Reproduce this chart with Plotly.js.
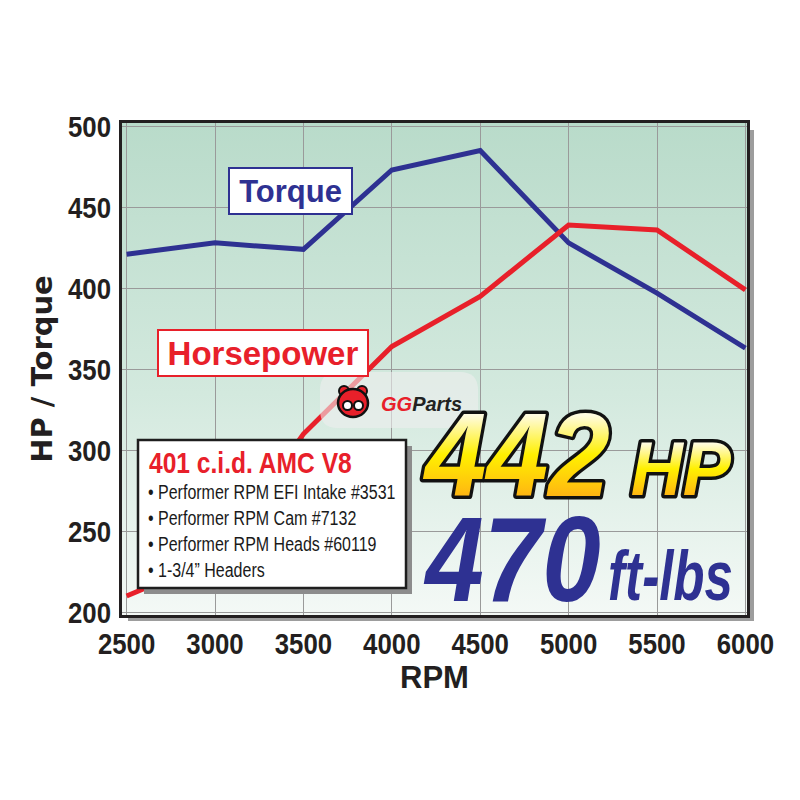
<!DOCTYPE html>
<html>
<head>
<meta charset="utf-8">
<script src="https://cdn.plot.ly/plotly-3.0.1.min.js"></script>
<style>
  html, body { margin: 0; padding: 0; background: #ffffff; }
  #chart { width: 800px; height: 800px; }
</style>
</head>
<body>
<div id="chart"></div>
<script>
// ---- data ----
const rpm = [2500, 3000, 3500, 4000, 4500, 5000, 5500, 6000];
const torque = [421, 428, 424, 473, 485, 428, 397, 363];
const horsepower = [210, 233, 310, 364, 395, 439, 436, 399];
const xTickVals = [2500, 3000, 3500, 4000, 4500, 5000, 5500, 6000];
const yTickVals = [200, 250, 300, 350, 400, 450, 500];
const seriesNames = ['Torque', 'Horsepower'];
const engineTitle = '401 c.i.d. AMC V8';
const engineSpecs = [
  'Performer RPM EFI Intake #3531',
  'Performer RPM Cam #7132',
  'Performer RPM Heads #60119',
  '1-3/4\u201D Headers'
];
const peakHP = '442';
const peakTorque = '470';

const BLUE = '#2e3192';
const RED = '#e8202a';
const SANS = '"Liberation Sans", Arial, sans-serif';

// px -> paper helpers (plot area 122..747 x 123..615)
const PX0 = 122, PW = 625, PY1 = 615, PH = 492;
const px = v => (v - PX0) / PW;
const py = v => (PY1 - v) / PH;

const gradSvg = '<svg xmlns="http://www.w3.org/2000/svg" width="100" height="100" preserveAspectRatio="none">' +
  '<defs><linearGradient id="g" x1="0" y1="0" x2="0" y2="1">' +
  '<stop offset="0" stop-color="#b9dbca"/><stop offset="0.55" stop-color="#d3e9de"/>' +
  '<stop offset="1" stop-color="#f4f9f6"/></linearGradient></defs>' +
  '<rect width="100" height="100" fill="url(#g)"/></svg>';
const gradUri = 'data:image/svg+xml;charset=utf-8,' + encodeURIComponent(gradSvg);

const traces = [
  { x: rpm, y: torque, name: seriesNames[0], type: 'scatter', mode: 'lines',
    line: { color: BLUE, width: 5 }, hoverinfo: 'skip' },
  { x: rpm, y: horsepower, name: seriesNames[1], type: 'scatter', mode: 'lines',
    line: { color: RED, width: 5 }, hoverinfo: 'skip' }
];

function roundRect(x0, y0, x1, y1, r) {
  const rx = r / PW, ry = r / PH;
  return `M ${x0+rx},${y0} L ${x1-rx},${y0} Q ${x1},${y0} ${x1},${y0+ry} L ${x1},${y1-ry} Q ${x1},${y1} ${x1-rx},${y1} ` +
         `L ${x0+rx},${y1} Q ${x0},${y1} ${x0},${y1-ry} L ${x0},${y0+ry} Q ${x0},${y0} ${x0+rx},${y0} Z`;
}

const shapes = [
  { type: 'rect', xref: 'paper', yref: 'paper', x0: 1.002, x1: px(754), y0: py(621), y1: py(130),
    fillcolor: '#9d9d9d', line: { width: 0 }, layer: 'below' },
  { type: 'rect', xref: 'paper', yref: 'paper', x0: px(128), x1: px(754), y0: py(621), y1: -0.002,
    fillcolor: '#9d9d9d', line: { width: 0 }, layer: 'below' },
  { type: 'path', xref: 'paper', yref: 'paper', path: roundRect(px(320), py(428), px(478), py(372), 18),
    fillcolor: 'rgba(238,238,238,0.6)', line: { width: 0 }, layer: 'above' },
  { type: 'circle', xref: 'paper', yref: 'paper', x0: px(339), x1: px(349), y0: py(396), y1: py(386),
    fillcolor: RED, line: { color: '#111', width: 2 }, layer: 'above' },
  { type: 'circle', xref: 'paper', yref: 'paper', x0: px(357), x1: px(367), y0: py(396), y1: py(386),
    fillcolor: RED, line: { color: '#111', width: 2 }, layer: 'above' },
  { type: 'circle', xref: 'paper', yref: 'paper', x0: px(338), x1: px(368), y0: py(417), y1: py(389),
    fillcolor: RED, line: { color: '#111', width: 2.5 }, layer: 'above' },
  { type: 'circle', xref: 'paper', yref: 'paper', x0: px(343), x1: px(352), y0: py(410), y1: py(401),
    fillcolor: '#ffffff', line: { color: '#111', width: 2 }, layer: 'above' },
  { type: 'circle', xref: 'paper', yref: 'paper', x0: px(354), x1: px(363), y0: py(410), y1: py(401),
    fillcolor: '#ffffff', line: { color: '#111', width: 2 }, layer: 'above' },
  { type: 'rect', xref: 'paper', yref: 'paper', x0: px(144), x1: px(412), y0: py(594), y1: py(446),
    fillcolor: '#8c8c8c', line: { width: 0 }, layer: 'above' },
  { type: 'rect', xref: 'paper', yref: 'paper', x0: px(138), x1: px(406), y0: py(588), y1: py(440),
    fillcolor: '#ffffff', line: { color: '#1e1e1e', width: 2.5 }, layer: 'above' }
];

const annotations = [
  { xref: 'paper', yref: 'paper', x: px(290), y: py(191), xanchor: 'center', yanchor: 'middle',
    text: seriesNames[0], showarrow: false, bgcolor: '#ffffff', bordercolor: BLUE, borderwidth: 2,
    borderpad: 0, width: 121, height: 44,
    font: { family: SANS, size: 31, color: BLUE, weight: 'bold' } },
  { xref: 'paper', yref: 'paper', x: px(263), y: py(353), xanchor: 'center', yanchor: 'middle',
    text: seriesNames[1], showarrow: false, bgcolor: '#ffffff', bordercolor: RED, borderwidth: 2,
    borderpad: 0, width: 208, height: 44,
    font: { family: SANS, size: 33, color: RED, weight: 'bold' } },
  { xref: 'paper', yref: 'paper', x: px(379), y: py(404), xanchor: 'left', yanchor: 'middle',
    text: '<span style="color:' + RED + '">GG</span>Parts', showarrow: false,
    font: { family: SANS, size: 20, color: '#222222', weight: 'bold', style: 'italic' } },
  { xref: 'paper', yref: 'paper', x: px(147), y: py(462), xanchor: 'left', yanchor: 'middle', align: 'left',
    text: engineTitle, showarrow: false,
    font: { family: SANS, size: 30, color: RED, weight: 'bold' } },
  { xref: 'paper', yref: 'paper', x: px(146), y: py(531), xanchor: 'left', yanchor: 'middle', align: 'left',
    text: engineSpecs.map(s => '\u2022 ' + s).join('<br>'), showarrow: false,
    font: { family: SANS, size: 20, color: '#1a1a1a' } },
  { xref: 'paper', yref: 'paper', x: px(516), y: py(455), xanchor: 'center', yanchor: 'middle',
    text: peakHP, showarrow: false,
    font: { family: SANS, size: 118, color: '#ffd800', weight: 'bold', style: 'italic' } },
  { xref: 'paper', yref: 'paper', x: px(681), y: py(468), xanchor: 'center', yanchor: 'middle',
    text: 'HP', showarrow: false,
    font: { family: SANS, size: 76, color: '#ffd800', weight: 'bold', style: 'italic' } },
  { xref: 'paper', yref: 'paper', x: px(512), y: py(559), xanchor: 'center', yanchor: 'middle',
    text: peakTorque, showarrow: false,
    font: { family: SANS, size: 120, color: BLUE, weight: 'bold', style: 'italic' } },
  { xref: 'paper', yref: 'paper', x: px(670), y: py(576), xanchor: 'center', yanchor: 'middle',
    text: 'ft-lbs', showarrow: false,
    font: { family: SANS, size: 70, color: BLUE, weight: 'bold', style: 'italic' } }
];

const layout = {
  width: 800, height: 800,
  margin: { l: 122, r: 53, t: 123, b: 185 },
  paper_bgcolor: '#ffffff',
  plot_bgcolor: 'rgba(0,0,0,0)',
  showlegend: false,
  xaxis: {
    range: [2474, 6009], tickvals: xTickVals, ticktext: xTickVals.map(String),
    showgrid: true, gridcolor: '#9a9a9a', gridwidth: 1, zeroline: false,
    showline: true, mirror: true, linecolor: '#231f20', linewidth: 3,
    ticks: '', ticklabelstandoff: 0,
    tickfont: { family: SANS, size: 30, color: '#231f20', weight: 'bold' },
    title: { text: 'RPM', standoff: 3, font: { family: SANS, size: 31, color: '#231f20', weight: 'bold' } }
  },
  yaxis: {
    range: [198.3, 502], tickvals: yTickVals, ticktext: yTickVals.map(String),
    showgrid: true, gridcolor: '#9a9a9a', gridwidth: 1, zeroline: false,
    showline: true, mirror: true, linecolor: '#231f20', linewidth: 3,
    ticks: '', ticklabelstandoff: 2,
    tickfont: { family: SANS, size: 30, color: '#231f20', weight: 'bold' },
    title: { text: 'HP / Torque', standoff: 0, font: { family: '"DejaVu Sans", sans-serif', size: 29, color: '#231f20', weight: 'bold' } }
  },
  images: [{ source: gradUri, xref: 'paper', yref: 'paper', x: 0, y: 1, sizex: 1, sizey: 1,
    xanchor: 'left', yanchor: 'top', sizing: 'stretch', layer: 'below' }],
  shapes: shapes,
  annotations: annotations
};

// horizontally condense an svg text element about a chosen point of its box
function condense(el, s, where) {
  const bb = el.getBBox();
  const anchor = where || el.getAttribute('text-anchor') || 'start';
  const ax = anchor === 'end' ? bb.x + bb.width : anchor === 'middle' ? bb.x + bb.width / 2 : bb.x;
  const prev = el.getAttribute('transform') || '';
  el.setAttribute('transform', prev + ` translate(${ax},0) scale(${s},1) translate(${-ax},0)`);
}

Plotly.newPlot('chart', traces, layout, { staticPlot: true, displayModeBar: false }).then(gd => {
  const svg = gd.querySelector('svg.main-svg');
  const ns = 'http://www.w3.org/2000/svg';
  let defs = svg.querySelector('defs');
  if (!defs) { defs = document.createElementNS(ns, 'defs'); svg.insertBefore(defs, svg.firstChild); }
  const lg = document.createElementNS(ns, 'linearGradient');
  lg.setAttribute('id', 'hpGradFill');
  lg.setAttribute('x1', '0'); lg.setAttribute('y1', '0'); lg.setAttribute('x2', '0'); lg.setAttribute('y2', '1');
  [['0.2', '#fffbe0'], ['0.5', '#fff000'], ['0.75', '#ffc20e'], ['0.95', '#f7941d']].forEach(([o, c]) => {
    const s = document.createElementNS(ns, 'stop');
    s.setAttribute('offset', o); s.setAttribute('stop-color', c); lg.appendChild(s);
  });
  defs.appendChild(lg);

  gd.querySelectorAll('.xtick text').forEach(t => condense(t, 0.86));
  gd.querySelectorAll('.ytick text').forEach(t => condense(t, 0.86));

  gd.querySelectorAll('text.annotation-text').forEach(t => {
    const c = t.textContent;
    if (c === peakHP || c === 'HP') {
      t.style.fill = 'url(#hpGradFill)';
      t.style.stroke = '#111111';
      t.style.strokeWidth = '7px';
      t.style.strokeLinejoin = 'round';
      t.style.paintOrder = 'stroke';
      condense(t, c === 'HP' ? 0.95 : 0.94, 'middle');
    } else if (c === peakTorque) {
      condense(t, 0.875, 'middle');
    } else if (c === 'ft-lbs') {
      condense(t, 0.73, 'middle');
    } else if (c === engineTitle) {
      condense(t, 0.82, 'start');
    } else if (c.indexOf(engineSpecs[0]) >= 0) {
      condense(t, 0.80, 'start');
    }
  });
});
</script>
</body>
</html>
